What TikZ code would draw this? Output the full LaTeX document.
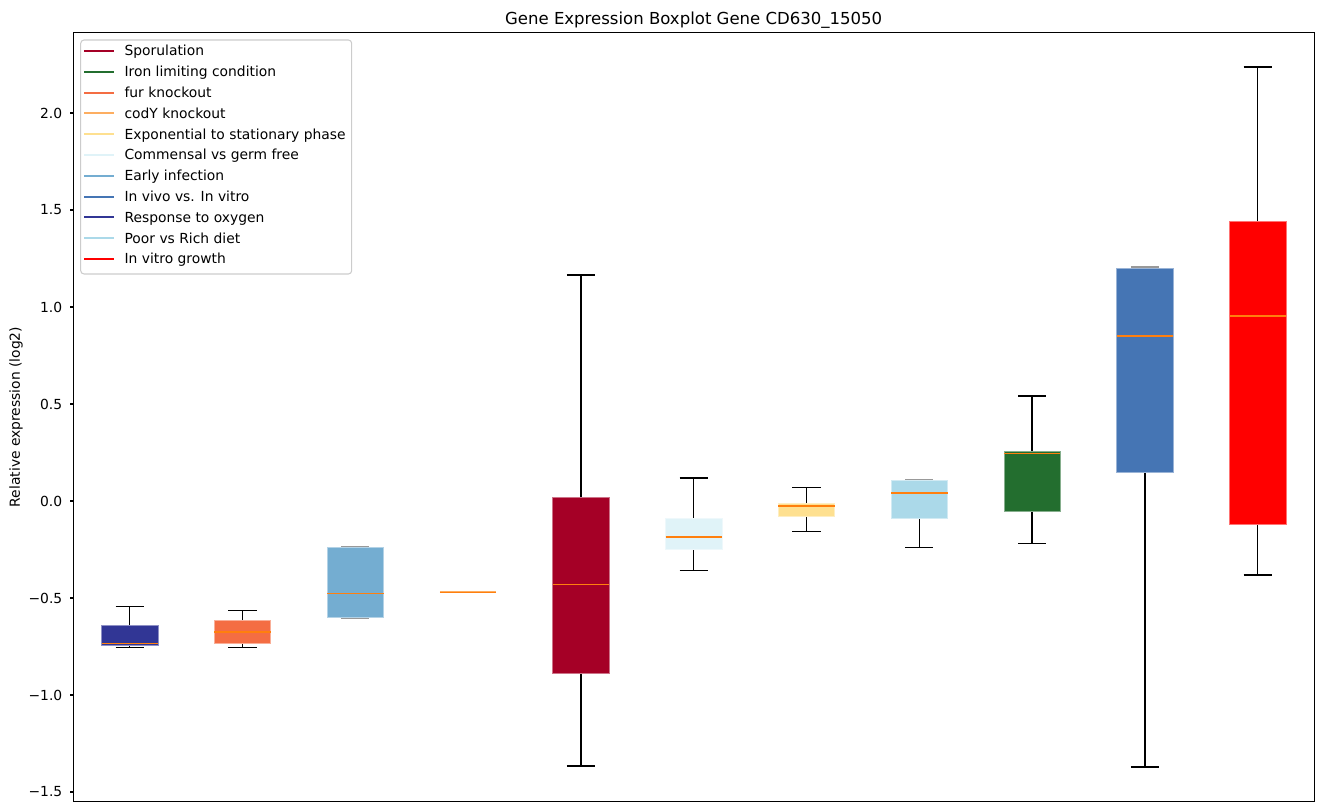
\documentclass[tikz,border=0pt]{standalone}
\usepackage{fontspec}
\setmainfont{DejaVu Sans}
\usepackage{tikz}

\definecolor{sporcol}{HTML}{A50026}
\definecolor{ironcol}{HTML}{236E2F}
\definecolor{furcol}{HTML}{F46D43}
\definecolor{codycol}{HTML}{FDAE61}
\definecolor{expocol}{HTML}{FEE090}
\definecolor{commcol}{HTML}{E0F3F8}
\definecolor{earlycol}{HTML}{74ADD1}
\definecolor{vivocol}{HTML}{4575B4}
\definecolor{oxycol}{HTML}{313695}
\definecolor{dietcol}{HTML}{ABD9E9}
\definecolor{vitrocol}{HTML}{FF0000}
\definecolor{medorange}{HTML}{FF7F0E}

\begin{document}
\begin{tikzpicture}[x=0.75pt,y=-0.75pt,
    spine/.style={draw=black,line width=0.8pt},
    whisk/.style={draw=black,line width=1pt},
    boxfill/.style={fill=#1,draw=#1!55!white,line width=0.4pt},
    medline/.style={draw=medorange,line width=1.25pt},
    legline/.style={line width=1.5pt},
    leglab/.style={anchor=base west,inner sep=0pt,font=\fontsize{10.4}{12}\selectfont},
    ticklab/.style={anchor=east,inner sep=0pt,font=\fontsize{10.4}{12}\selectfont}]
    \useasboundingbox (0,0) rectangle (1322,812);

    % title and axis label
    \node[anchor=base,font=\fontsize{12.4}{14}\selectfont] (title) at (693.7,25) {Gene Expression Boxplot Gene CD630\_15050};
    \node[rotate=90,font=\fontsize{10.4}{12}\selectfont] (ylab) at (16,417) {Relative expression (log2)};

    \begin{scope}[shift={(16.9,501)},x=84.6pt,y=145.5pt]
    % y ticks
    \draw[spine] (0.5,2.0) -- ++(-2.6pt,0pt) node[ticklab,xshift=-5.3pt] (t20) {2.0};
    \draw[spine] (0.5,1.5) -- ++(-2.6pt,0pt) node[ticklab,xshift=-5.3pt] (t15) {1.5};
    \draw[spine] (0.5,1.0) -- ++(-2.6pt,0pt) node[ticklab,xshift=-5.3pt] (t10) {1.0};
    \draw[spine] (0.5,0.5) -- ++(-2.6pt,0pt) node[ticklab,xshift=-5.3pt] (t05) {0.5};
    \draw[spine] (0.5,0.0) -- ++(-2.6pt,0pt) node[ticklab,xshift=-5.3pt] (t00) {0.0};
    \draw[spine] (0.5,-0.5) -- ++(-2.6pt,0pt) node[ticklab,xshift=-5.3pt] (tm05) {−0.5};
    \draw[spine] (0.5,-1.0) -- ++(-2.6pt,0pt) node[ticklab,xshift=-5.3pt] (tm10) {−1.0};
    \draw[spine] (0.5,-1.5) -- ++(-2.6pt,0pt) node[ticklab,xshift=-5.3pt] (tm15) {−1.5};

    % 1 response to oxygen
    \draw[whisk] (1,-0.754) -- (1,-0.746) (1,-0.639) -- (1,-0.543)
        (0.875,-0.754) -- (1.125,-0.754) (0.875,-0.543) -- (1.125,-0.543);
    \filldraw[boxfill=oxycol] (0.75,-0.746) rectangle (1.25,-0.639);
    \draw[medline] (0.75,-0.734) -- (1.25,-0.734);
    % 2 fur knockout
    \draw[whisk] (2,-0.754) -- (2,-0.732) (2,-0.613) -- (2,-0.564)
        (1.875,-0.754) -- (2.125,-0.754) (1.875,-0.564) -- (2.125,-0.564);
    \filldraw[boxfill=furcol] (1.75,-0.732) rectangle (2.25,-0.613);
    \draw[medline] (1.75,-0.674) -- (2.25,-0.674);
    % 3 early infection
    \draw[whisk,black!40] (2.875,-0.603) -- (3.125,-0.603) (2.875,-0.235) -- (3.125,-0.235);
    \filldraw[boxfill=earlycol] (2.75,-0.601) rectangle (3.25,-0.237);
    \draw[medline] (2.75,-0.476) -- (3.25,-0.476);
    % 4 codY knockout
    \draw[whisk,black!40] (3.875,-0.471) -- (4.125,-0.471);
    \draw[codycol,line width=1.6pt] (3.75,-0.471) -- (4.25,-0.471);
    \draw[medline] (3.75,-0.471) -- (4.25,-0.471);
    % 5 sporulation
    \draw[whisk] (5,-1.366) -- (5,-0.887) (5,0.02) -- (5,1.165)
        (4.875,-1.366) -- (5.125,-1.366) (4.875,1.165) -- (5.125,1.165);
    \filldraw[boxfill=sporcol] (4.75,-0.887) rectangle (5.25,0.02);
    \draw[medline] (4.75,-0.43) -- (5.25,-0.43);
    % 6 commensal vs germ free
    \draw[whisk] (6,-0.357) -- (6,-0.251) (6,-0.088) -- (6,0.119)
        (5.875,-0.357) -- (6.125,-0.357) (5.875,0.119) -- (6.125,0.119);
    \filldraw[boxfill=commcol] (5.75,-0.251) rectangle (6.25,-0.088);
    \draw[medline] (5.75,-0.187) -- (6.25,-0.187);
    % 7 exponential to stationary phase
    \draw[whisk] (7,-0.156) -- (7,-0.077) (7,-0.010) -- (7,0.070)
        (6.875,-0.156) -- (7.125,-0.156) (6.875,0.070) -- (7.125,0.070);
    \filldraw[boxfill=expocol] (6.75,-0.077) rectangle (7.25,-0.010);
    \draw[medline] (6.75,-0.027) -- (7.25,-0.027);
    % 8 poor vs rich diet
    \draw[whisk] (8,-0.239) -- (8,-0.088)
        (7.875,-0.239) -- (8.125,-0.239);
    \draw[whisk,black!40] (7.875,0.112) -- (8.125,0.112);
    \filldraw[boxfill=dietcol] (7.75,-0.088) rectangle (8.25,0.108);
    \draw[medline] (7.75,0.040) -- (8.25,0.040);
    % 9 iron limiting condition
    \draw[whisk] (9,-0.218) -- (9,-0.055) (9,0.258) -- (9,0.541)
        (8.875,-0.218) -- (9.125,-0.218) (8.875,0.541) -- (9.125,0.541);
    \filldraw[boxfill=ironcol] (8.75,-0.055) rectangle (9.25,0.258);
    \draw[medline] (8.75,0.244) -- (9.25,0.244);
    % 10 in vivo vs. in vitro
    \draw[whisk] (10,-1.371) -- (10,0.146)
        (9.875,-1.371) -- (10.125,-1.371);
    \draw[whisk,black!40] (9.875,1.206) -- (10.125,1.206);
    \filldraw[boxfill=vivocol] (9.75,0.146) rectangle (10.25,1.202);
    \draw[medline] (9.75,0.851) -- (10.25,0.851);
    % 11 in vitro growth
    \draw[whisk] (11,-0.381) -- (11,-0.122) (11,1.443) -- (11,2.237)
        (10.875,-0.381) -- (11.125,-0.381) (10.875,2.237) -- (11.125,2.237);
    \filldraw[boxfill=vitrocol] (10.75,-0.122) rectangle (11.25,1.443);
    \draw[medline] (10.75,0.952) -- (11.25,0.952);
    \end{scope}

    % frame
    \draw[spine] (73.3,32.5) rectangle (1314.1,801.7);

    % legend
    \draw[draw=black!20,fill=white,fill opacity=0.8,rounded corners=2.5pt,line width=0.8pt] (80.7,40) rectangle (351.7,274);
    \draw[legline,sporcol] (84,51) -- (114,51);
    \node[leglab] (lspor) at (124.3,56) {Sporulation};
    \draw[legline,ironcol] (84,71.8) -- (114,71.8);
    \node[leglab] (liron) at (124.3,76.8) {Iron limiting condition};
    \draw[legline,furcol] (84,92.6) -- (114,92.6);
    \node[leglab] (lfur) at (124.3,97.6) {fur knockout};
    \draw[legline,codycol] (84,113.4) -- (114,113.4);
    \node[leglab] (lcody) at (124.3,118.4) {codY knockout};
    \draw[legline,expocol] (84,134.2) -- (114,134.2);
    \node[leglab] (lexpo) at (124.3,139.2) {Exponential to stationary phase};
    \draw[legline,commcol] (84,155) -- (114,155);
    \node[leglab] (lcomm) at (124.3,160) {Commensal vs germ free};
    \draw[legline,earlycol] (84,175.8) -- (114,175.8);
    \node[leglab] (learly) at (124.3,180.8) {Early infection};
    \draw[legline,vivocol] (84,196.6) -- (114,196.6);
    \node[leglab] (lvivo) at (124.3,201.6) {In vivo vs. In vitro};
    \draw[legline,oxycol] (84,217.4) -- (114,217.4);
    \node[leglab] (loxy) at (124.3,222.4) {Response to oxygen};
    \draw[legline,dietcol] (84,238.2) -- (114,238.2);
    \node[leglab] (ldiet) at (124.3,243.2) {Poor vs Rich diet};
    \draw[legline,vitrocol] (84,259) -- (114,259);
    \node[leglab] (lvitro) at (124.3,264) {In vitro growth};
\end{tikzpicture}
\end{document}
